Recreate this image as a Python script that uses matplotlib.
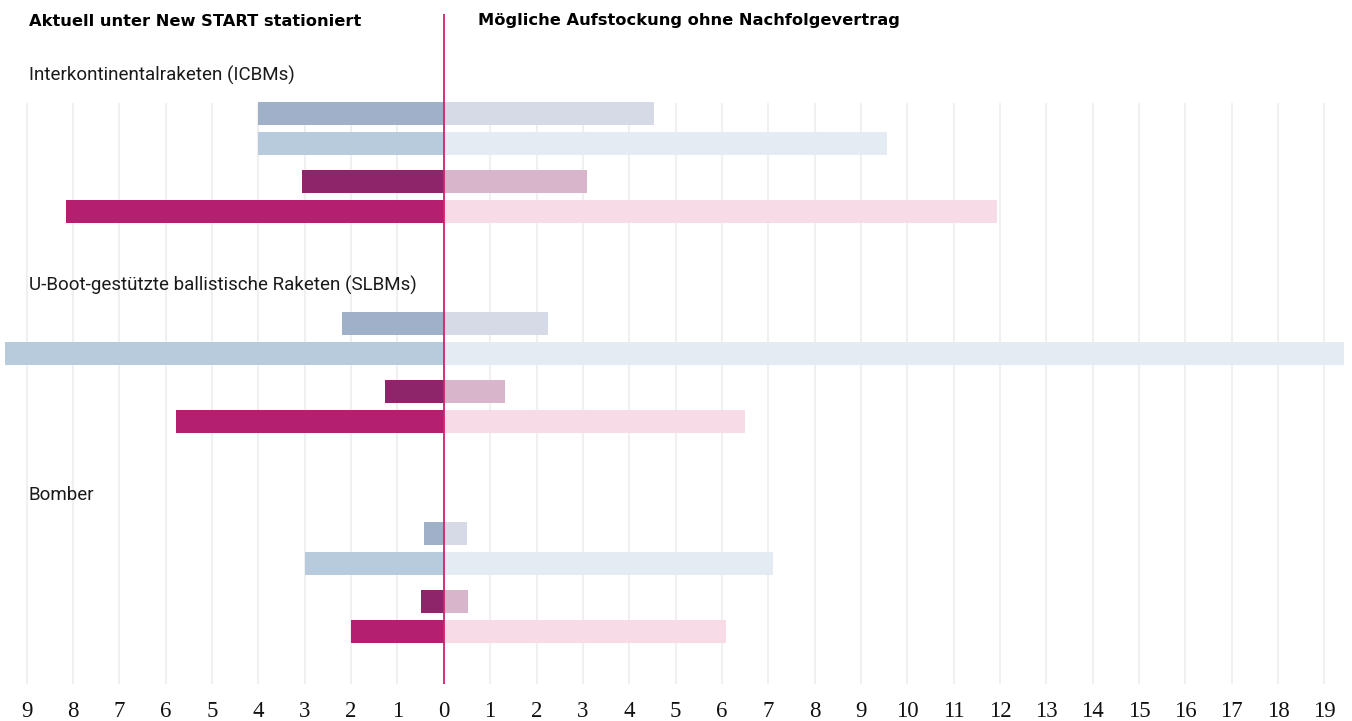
import numpy as np
import matplotlib
matplotlib.use("Agg")
import matplotlib.pyplot as plt

# ── data ─────────────────────────────────────────────────────────────────────
header_left = "Aktuell unter New START stationiert"
header_right = "Mögliche Aufstockung ohne Nachfolgevertrag"
groups = ["Interkontinentalraketen (ICBMs)",
          "U-Boot-gestützte ballistische Raketen (SLBMs)",
          "Bomber"]

# four bars per group (top to bottom), current (left) and possible (right)
current = [
    [4.01, 4.01, 3.06, 8.15],
    [2.19, 9.47, 1.27, 5.78],
    [0.42, 3.00, 0.49, 2.00],
]
possible = [
    [4.54, 9.57, 3.09, 11.94],
    [2.24, 19.42, 1.33, 6.49],
    [0.49, 7.11, 0.53, 6.09],
]

left_colors = ["#9fb0c8", "#b8cbdc", "#8e246a", "#b51f6f"]
right_colors = ["#d5dae6", "#e4ebf3", "#d9b5cb", "#f7dbe6"]

ticks = np.arange(-9, 20)
tick_labels = [str(abs(t)) for t in ticks]

# ── layout (pixel units from the top of the figure) ─────────────────────────
W, H = 1352, 721
ZERO_PX, UNIT_PX = 443.8, 46.35
AX_BOTTOM_PX = 684
group_top = 113          # centre of first bar in first group
group_step = 210
bar_offsets = [0, 30, 68, 98]
bar_h = 23

fig = plt.figure(figsize=(W / 100, H / 100), dpi=100)
ax = fig.add_axes([0, (H - AX_BOTTOM_PX) / H, 1, AX_BOTTOM_PX / H])
ax.set_xlim(-ZERO_PX / UNIT_PX, (W - ZERO_PX) / UNIT_PX)
ax.set_ylim(AX_BOTTOM_PX, 0)
for s in ax.spines.values():
    s.set_visible(False)

x_left_text = (29 - ZERO_PX) / UNIT_PX

# grid
ax.vlines(ticks, 103, AX_BOTTOM_PX, color="#f0f0f0", linewidth=1.5, zorder=0)

for g, name in enumerate(groups):
    base = group_top + g * group_step
    ys = [base + o for o in bar_offsets]
    ax.barh(ys, [-v for v in current[g]], height=bar_h,
            color=left_colors, zorder=2)
    ax.barh(ys, possible[g], height=bar_h, color=right_colors, zorder=2)
    ax.text(x_left_text, base - 38, name,
            fontsize=13.5, family="Roboto", color="#1a1a1a",
            va="center", ha="left")

# zero line
ax.vlines(0, 14, AX_BOTTOM_PX, color="#d6206f", linewidth=1.3, zorder=3)

# headers
ax.text(x_left_text, 21, header_left, fontsize=11.7,
        family="DejaVu Sans", fontweight="heavy", va="center", ha="left")
ax.text((478 - ZERO_PX) / UNIT_PX, 21, header_right, fontsize=11.7,
        family="DejaVu Sans", fontweight="heavy", va="center", ha="left")

ax.set_yticks([])
ax.set_xticks(ticks)
ax.set_xticklabels(tick_labels, family="Liberation Serif", fontsize=16.5,
                   color="#111111")
ax.tick_params(axis="x", length=0, pad=12)

fig.savefig("out.png", dpi=100)
